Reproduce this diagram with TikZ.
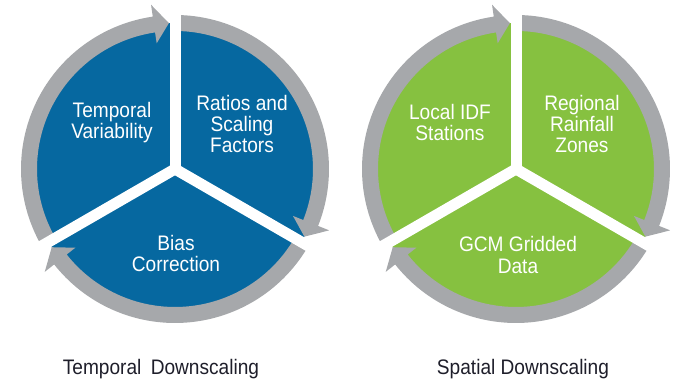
\documentclass[tikz,border=0pt]{standalone}
\usepackage{fontspec}
\newfontfamily\diagramfont{Liberation Sans}[FakeStretch=0.91]
\definecolor{tempblue}{HTML}{0668A0}
\definecolor{spatgreen}{HTML}{86C140}
\definecolor{ringgray}{HTML}{A6A8AB}
\definecolor{captiondark}{HTML}{1E1E2A}

\begin{document}
\begin{tikzpicture}[x=1pt, y=1pt,
    sectortext/.style={text=white, align=center, inner sep=0pt, font=\diagramfont\fontsize{21}{21}\selectfont},
    captiontext/.style={text=captiondark, anchor=base, inner sep=0pt, font=\diagramfont\fontsize{21}{21}\selectfont},
    band/.style={fill=ringgray},
    gapline/.style={draw=white, line width=11pt}
]
    \useasboundingbox (0,0) rectangle (673,379);

    % temporal downscaling
    \begin{scope}[shift={(175,210)}]
        \fill[tempblue] (0,0) circle[radius=146pt];
        \fill[band] (210:154pt) arc[start angle=210, end angle=98.3, radius=154pt] -- (98.3:166pt) -- (92.4:146pt) -- (98.3:127pt) -- (98.3:138pt) arc[start angle=98.3, end angle=210, radius=138pt] -- cycle;
        \fill[band] (90:154pt) arc[start angle=90, end angle=-21.7, radius=154pt] -- (-21.7:166pt) -- (-27.6:146pt) -- (-21.7:127pt) -- (-21.7:138pt) arc[start angle=-21.7, end angle=90, radius=138pt] -- cycle;
        \fill[band] (-30:154pt) arc[start angle=-30, end angle=-141.7, radius=154pt] -- (-141.7:166pt) -- (-147.6:146pt) -- (-141.7:127pt) -- (-141.7:138pt) arc[start angle=-141.7, end angle=-30, radius=138pt] -- cycle;
        \draw[gapline] (0,0) -- (90:175pt);
        \draw[gapline] (0,0) -- (-30:175pt);
        \draw[gapline] (0,0) -- (210:175pt);
        \node[sectortext] (tempvar) at (-63,46) {Temporal\\Variability};
        \node[sectortext] (ratios) at (67,45) {Ratios and\\Scaling\\Factors};
        \node[sectortext] (bias) at (1,-85) {Bias\\Correction};
    \end{scope}

    % spatial downscaling
    \begin{scope}[shift={(516,210)}]
        \fill[spatgreen] (0,0) circle[radius=146pt];
        \fill[band] (210:154pt) arc[start angle=210, end angle=98.3, radius=154pt] -- (98.3:166pt) -- (92.4:146pt) -- (98.3:127pt) -- (98.3:138pt) arc[start angle=98.3, end angle=210, radius=138pt] -- cycle;
        \fill[band] (90:154pt) arc[start angle=90, end angle=-21.7, radius=154pt] -- (-21.7:166pt) -- (-27.6:146pt) -- (-21.7:127pt) -- (-21.7:138pt) arc[start angle=-21.7, end angle=90, radius=138pt] -- cycle;
        \fill[band] (-30:154pt) arc[start angle=-30, end angle=-141.7, radius=154pt] -- (-141.7:166pt) -- (-147.6:146pt) -- (-141.7:127pt) -- (-141.7:138pt) arc[start angle=-141.7, end angle=-30, radius=138pt] -- cycle;
        \draw[gapline] (0,0) -- (90:175pt);
        \draw[gapline] (0,0) -- (-30:175pt);
        \draw[gapline] (0,0) -- (210:175pt);
        \node[sectortext] (localidf) at (-66,46) {Local IDF\\Stations};
        \node[sectortext] (regional) at (66,45) {Regional\\Rainfall\\Zones};
        \node[sectortext] (gcm) at (2,-86) {GCM Gridded\\Data};
    \end{scope}

    \node[captiontext] (tempcap) at (161,4) {Temporal\hspace{4pt} Downscaling};
    \node[captiontext] (spatcap) at (523,4) {Spatial Downscaling};
\end{tikzpicture}
\end{document}
